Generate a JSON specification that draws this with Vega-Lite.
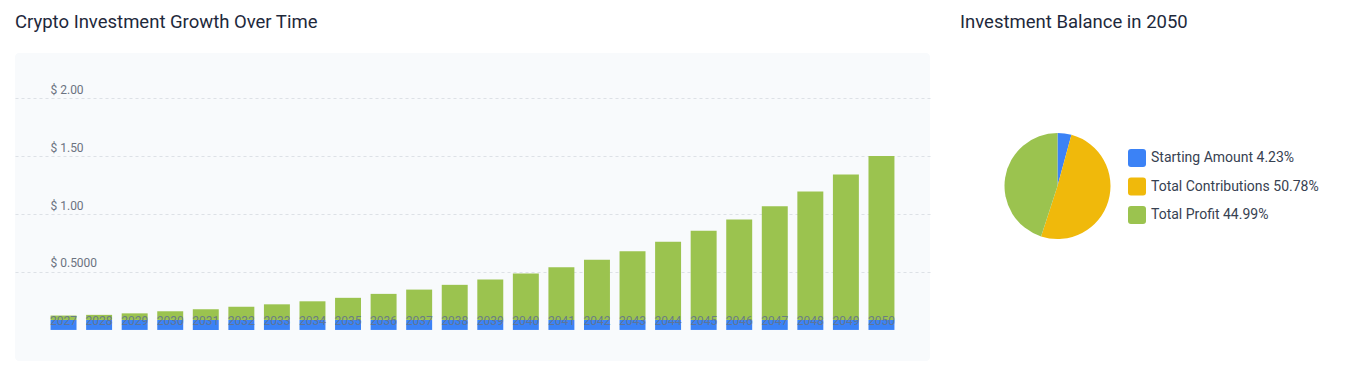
{
  "$schema": "https://vega.github.io/schema/vega-lite/v6.json",
  "background": "white",
  "padding": {"left": 15, "top": 12, "right": 0, "bottom": 0},
  "spacing": 30,
  "config": {
    "font": "Roboto",
    "title": {"anchor": "start", "fontSize": 18.5, "fontWeight": "normal", "color": "#1e293b", "offset": 22, "font": "Roboto"}
  },
  "resolve": {"scale": {"color": "independent"}},
  "hconcat": [
    {
      "width": 915,
      "height": 308,
      "view": {"fill": "#f8fafc", "stroke": null, "cornerRadius": 4},
      "title": {"text": "Crypto Investment Growth Over Time"},
      "data": {"values": [
        {"year": "2027", "segment": "Starting Amount", "value": 0.086}, {"year": "2027", "segment": "Total Profit", "value": 0.038},
        {"year": "2028", "segment": "Starting Amount", "value": 0.086}, {"year": "2028", "segment": "Total Profit", "value": 0.044},
        {"year": "2029", "segment": "Starting Amount", "value": 0.086}, {"year": "2029", "segment": "Total Profit", "value": 0.057},
        {"year": "2030", "segment": "Starting Amount", "value": 0.086}, {"year": "2030", "segment": "Total Profit", "value": 0.075},
        {"year": "2031", "segment": "Starting Amount", "value": 0.086}, {"year": "2031", "segment": "Total Profit", "value": 0.092},
        {"year": "2032", "segment": "Starting Amount", "value": 0.086}, {"year": "2032", "segment": "Total Profit", "value": 0.115},
        {"year": "2033", "segment": "Starting Amount", "value": 0.086}, {"year": "2033", "segment": "Total Profit", "value": 0.135},
        {"year": "2034", "segment": "Starting Amount", "value": 0.086}, {"year": "2034", "segment": "Total Profit", "value": 0.161},
        {"year": "2035", "segment": "Starting Amount", "value": 0.086}, {"year": "2035", "segment": "Total Profit", "value": 0.191},
        {"year": "2036", "segment": "Starting Amount", "value": 0.086}, {"year": "2036", "segment": "Total Profit", "value": 0.225},
        {"year": "2037", "segment": "Starting Amount", "value": 0.086}, {"year": "2037", "segment": "Total Profit", "value": 0.262},
        {"year": "2038", "segment": "Starting Amount", "value": 0.086}, {"year": "2038", "segment": "Total Profit", "value": 0.303},
        {"year": "2039", "segment": "Starting Amount", "value": 0.086}, {"year": "2039", "segment": "Total Profit", "value": 0.349},
        {"year": "2040", "segment": "Starting Amount", "value": 0.086}, {"year": "2040", "segment": "Total Profit", "value": 0.401},
        {"year": "2041", "segment": "Starting Amount", "value": 0.086}, {"year": "2041", "segment": "Total Profit", "value": 0.455},
        {"year": "2042", "segment": "Starting Amount", "value": 0.086}, {"year": "2042", "segment": "Total Profit", "value": 0.519},
        {"year": "2043", "segment": "Starting Amount", "value": 0.086}, {"year": "2043", "segment": "Total Profit", "value": 0.592},
        {"year": "2044", "segment": "Starting Amount", "value": 0.086}, {"year": "2044", "segment": "Total Profit", "value": 0.674},
        {"year": "2045", "segment": "Starting Amount", "value": 0.086}, {"year": "2045", "segment": "Total Profit", "value": 0.770},
        {"year": "2046", "segment": "Starting Amount", "value": 0.086}, {"year": "2046", "segment": "Total Profit", "value": 0.867},
        {"year": "2047", "segment": "Starting Amount", "value": 0.086}, {"year": "2047", "segment": "Total Profit", "value": 0.982},
        {"year": "2048", "segment": "Starting Amount", "value": 0.086}, {"year": "2048", "segment": "Total Profit", "value": 1.109},
        {"year": "2049", "segment": "Starting Amount", "value": 0.086}, {"year": "2049", "segment": "Total Profit", "value": 1.254},
        {"year": "2050", "segment": "Starting Amount", "value": 0.086}, {"year": "2050", "segment": "Total Profit", "value": 1.414}
      ]},
      "mark": {"type": "bar"},
      "encoding": {
        "x": {
          "field": "year", "type": "ordinal",
          "scale": {"paddingInner": 0.27, "paddingOuter": 1.0},
          "axis": {"title": null, "labelAngle": 0, "domain": false, "ticks": false, "grid": false, "labelPadding": -37, "labelBaseline": "alphabetic", "labelFontSize": 12, "labelColor": "#64748b", "labelOpacity": 0.9, "labelOverlap": false, "zindex": 1}
        },
        "y": {
          "field": "value", "type": "quantitative", "stack": "zero",
          "scale": {"domain": [-0.268, 2.389], "nice": false, "zero": false},
          "axis": {"title": null, "values": [0.5, 1, 1.5, 2], "domain": false, "ticks": false, "grid": true, "gridDash": [3, 3], "gridColor": "#dde1e6", "labelAlign": "left", "labelPadding": -35, "labelBaseline": "alphabetic", "labelOffset": -5, "labelFontSize": 12, "labelColor": "#6b7280", "labelExpr": "datum.value == 0.5 ? '$ 0.5000' : '$ ' + format(datum.value, '.2f')", "zindex": 0}
        },
        "color": {
          "field": "segment", "type": "nominal",
          "scale": {"domain": ["Starting Amount", "Total Profit"], "range": ["#3b82f6", "#9bc34f"]},
          "legend": null
        },
        "order": {"field": "segment", "sort": "ascending"}
      }
    },
    {
      "width": 195,
      "height": 266,
      "view": {"stroke": null},
      "title": {"text": "Investment Balance in 2050"},
      "data": {"values": [
        {"category": "Starting Amount 4.23%", "pct": 4.23},
        {"category": "Total Contributions 50.78%", "pct": 50.78},
        {"category": "Total Profit 44.99%", "pct": 44.99}
      ]},
      "mark": {"type": "arc", "outerRadius": 53},
      "encoding": {
        "theta": {"field": "pct", "type": "quantitative"},
        "color": {
          "field": "category", "type": "nominal",
          "scale": {"range": ["#3b82f6", "#f0b90b", "#9bc34f"]},
          "legend": {"orient": "none", "legendX": 168, "legendY": 96, "title": null, "padding": 0, "symbolType": "M-0.67,-1H0.67Q1,-1,1,-0.67V0.67Q1,1,0.67,1H-0.67Q-1,1,-1,0.67V-0.67Q-1,-1,-0.67,-1Z", "symbolSize": 324, "symbolStrokeWidth": 0, "symbolOffset": 0, "labelOffset": 5, "labelFontSize": 14, "labelLimit": 0, "labelColor": "#374151", "rowPadding": 10.5}
        }
      }
    }
  ]
}
